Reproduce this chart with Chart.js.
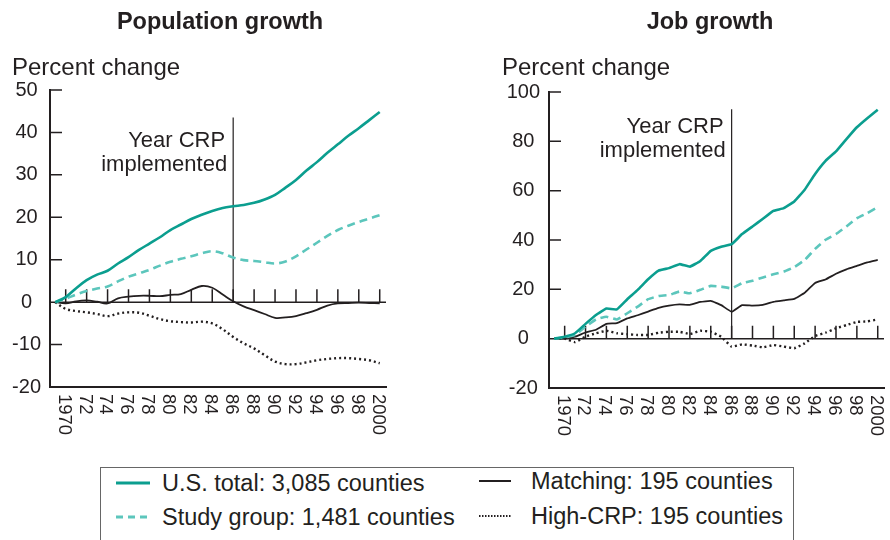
<!DOCTYPE html>
<html>
<head>
<meta charset="utf-8">
<script src="https://cdn.jsdelivr.net/npm/chart.js@4.4.1/dist/chart.umd.min.js"></script>
<style>
body{margin:0;background:#fff;width:890px;height:540px;overflow:hidden;position:relative;font-family:'Liberation Sans',Arial,Helvetica,sans-serif;color:#231f20}
#popChart{position:absolute;left:0;top:0}
#jobChart{position:absolute;left:445px;top:0}
.legend{position:absolute;left:100px;top:467px;width:692px;height:90px;border:1.5px solid #666}
.item{position:absolute;font-size:23.5px;line-height:26px;white-space:nowrap}
.item svg{position:absolute;top:10px}
</style>
</head>
<body>
<canvas id="popChart" width="445" height="460"></canvas>
<canvas id="jobChart" width="445" height="460"></canvas>

<div class="legend">
  <div class="item" style="left:61px;top:2px">
    <svg width="34" height="6" style="left:-46px"><line x1="0" y1="3" x2="34" y2="3" stroke="#0b9e8f" stroke-width="3"/></svg>U.S. total: 3,085 counties</div>
  <div class="item" style="left:61px;top:36px">
    <svg width="34" height="6" style="left:-46px"><line x1="0" y1="3" x2="34" y2="3" stroke="#5cc6bc" stroke-width="3" stroke-dasharray="7 5"/></svg>Study group: 1,481 counties</div>
  <div class="item" style="left:430px;top:0px">
    <svg width="32" height="6" style="left:-52px"><line x1="0" y1="3" x2="32" y2="3" stroke="#231f20" stroke-width="2"/></svg>Matching: 195 counties</div>
  <div class="item" style="left:430px;top:35px">
    <svg width="32" height="6" style="left:-52px"><line x1="0" y1="3" x2="32" y2="3" stroke="#231f20" stroke-width="2" stroke-dasharray="1.5 1.5"/></svg>High-CRP: 195 counties</div>
</div>

<script>
var years = [1969, 1970, 1971, 1972, 1973, 1974, 1975, 1976, 1977, 1978, 1979, 1980, 1981, 1982, 1983, 1984,
             1985, 1986, 1987, 1988, 1989, 1990, 1991, 1992, 1993, 1994, 1995, 1996, 1997, 1998, 1999, 2000];

// population growth, percent change since 1969
var popUS       = [0, 1.2, 3.3, 5.2, 6.5, 7.4, 9.1, 10.6, 12.3, 13.8, 15.3, 17.0, 18.3, 19.6, 20.6, 21.5,
                   22.2, 22.6, 22.9, 23.4, 24.2, 25.3, 27.0, 28.8, 31.0, 33.0, 35.2, 37.2, 39.2, 41.0, 42.9, 44.8];
var popStudy    = [0, 0.8, 1.8, 2.6, 3.2, 3.7, 4.9, 6.0, 6.8, 7.6, 8.6, 9.5, 10.2, 10.8, 11.5, 12.0,
                   11.5, 10.5, 9.9, 9.7, 9.4, 9.1, 9.6, 10.8, 12.4, 14.0, 15.6, 17.0, 18.0, 18.9, 19.7, 20.5];
var popMatching = [0, -0.3, 0.2, 0.4, 0.1, -0.3, 0.9, 1.3, 1.5, 1.5, 1.4, 1.7, 1.9, 2.9, 3.8, 3.4,
                   1.8, 0.2, -1.0, -1.9, -2.8, -3.7, -3.6, -3.3, -2.6, -1.8, -0.8, -0.3, -0.2, -0.1, -0.2, -0.3];
var popHighCRP  = [0, -1.6, -2.1, -2.4, -2.8, -3.3, -2.7, -2.4, -2.5, -3.2, -4.0, -4.5, -4.7, -4.8, -4.6, -5.0,
                   -6.4, -8.2, -9.7, -10.9, -12.5, -14.0, -14.6, -14.6, -14.2, -13.7, -13.4, -13.2, -13.2, -13.4, -13.7, -14.4];

// job growth, percent change since 1969
var jobUS       = [0, 0.8, 2.2, 6.0, 9.6, 12.2, 11.9, 16.0, 19.8, 24.1, 27.6, 28.6, 30.2, 29.2, 31.5, 35.6,
                   37.3, 38.3, 42.4, 45.5, 48.6, 51.8, 52.9, 55.6, 60.4, 66.8, 72.1, 75.9, 80.9, 85.7, 89.4, 92.8];
var jobStudy    = [0, 0.5, 1.5, 4.9, 7.8, 8.9, 7.8, 10.3, 13.0, 16.0, 17.3, 17.7, 19.1, 18.4, 19.8, 21.4,
                   21.1, 20.4, 22.5, 23.5, 24.8, 26.1, 27.2, 29.0, 31.9, 36.4, 40.1, 42.4, 45.5, 48.8, 50.9, 53.3];
var jobMatching = [0, 0, 0.8, 2.5, 3.6, 6.0, 6.3, 8.2, 9.5, 11.0, 12.5, 13.4, 13.9, 13.7, 14.9, 15.3,
                   13.6, 10.9, 13.6, 13.4, 13.7, 14.9, 15.5, 16.1, 18.6, 22.6, 24.0, 26.3, 28.1, 29.5, 30.9, 31.9];
var jobHighCRP  = [0, 0, -1.4, 0.8, 2.2, 3.2, 2.2, 1.8, 1.5, 1.5, 2.4, 2.8, 2.8, 1.9, 3.2, 2.8,
                   0.8, -3.2, -2.3, -2.8, -3.5, -2.6, -3.2, -3.9, -1.9, 1.1, 2.4, 4.2, 5.5, 6.8, 7.0, 7.8];

var tickYears  = [1970, 1972, 1974, 1976, 1978, 1980, 1982, 1984, 1986, 1988, 1990, 1992, 1994, 1996, 1998, 2000];
var tickLabels = ['1970', '72', '74', '76', '78', '80', '82', '84', '86', '88', '90', '92', '94', '96', '98', '2000'];
var crpYear = 1986;

var ink = '#231f20';
var teal = '#0b9e8f';
var lightTeal = '#5cc6bc';
var font = "'Liberation Sans', Arial, Helvetica, sans-serif";

function pts(vals) {
    return years.map(function(yr, i) { return {x: yr, y: vals[i]}; });
}

var decor = {
    id: 'decor',
    beforeDatasetsDraw: function(chart, args, o) {
        var ctx = chart.ctx, area = chart.chartArea;
        var xs = chart.scales.x, ys = chart.scales.y;
        var y0 = ys.getPixelForValue(0);
        ctx.save();
        ctx.strokeStyle = ink;
        ctx.lineWidth = 1.5;
        ctx.beginPath();
        // inward ticks on the y axis
        ys.ticks.forEach(function(t) {
            if (t.value > ys.min && t.value !== 0) {
                var py = ys.getPixelForValue(t.value);
                ctx.moveTo(area.left, py);
                ctx.lineTo(area.left + 12, py);
            }
        });
        // zero line with year ticks
        ctx.moveTo(area.left, y0);
        ctx.lineTo(area.right, y0);
        tickYears.forEach(function(yr) {
            var px = xs.getPixelForValue(yr);
            ctx.moveTo(px, y0);
            ctx.lineTo(px, y0 - 13);
        });
        ctx.stroke();
        // year CRP implemented
        var cx = xs.getPixelForValue(crpYear);
        ctx.lineWidth = 1.2;
        ctx.beginPath();
        ctx.moveTo(cx, ys.getPixelForValue(o.crpTop));
        ctx.lineTo(cx, y0);
        ctx.stroke();
        ctx.restore();
    },
    afterDraw: function(chart, args, o) {
        var ctx = chart.ctx, area = chart.chartArea;
        var xs = chart.scales.x, ys = chart.scales.y;
        ctx.save();
        ctx.fillStyle = ink;
        ctx.textBaseline = 'alphabetic';

        ctx.font = 'bold 23.5px ' + font;
        ctx.textAlign = 'center';
        ctx.fillText(o.title, o.titleX, 29);

        ctx.font = '24px ' + font;
        ctx.textAlign = 'left';
        ctx.fillText('Percent change', o.unitX, 75);

        var cx = xs.getPixelForValue(crpYear);
        ctx.font = '22px ' + font;
        ctx.textAlign = 'right';
        ctx.fillText('Year CRP', cx - 8, o.noteY);
        ctx.fillText('implemented', cx - 6, o.noteY + 24);

        // rotated year labels
        ctx.font = '18.5px ' + font;
        ctx.textAlign = 'left';
        ctx.textBaseline = 'middle';
        tickYears.forEach(function(yr, i) {
            ctx.save();
            ctx.translate(xs.getPixelForValue(yr) - 2, area.bottom + 7);
            ctx.rotate(Math.PI / 2);
            ctx.fillText(tickLabels[i], 0, 0);
            ctx.restore();
        });
        ctx.restore();
    }
};

function makeChart(id, series, yMin, yMax, yStep, pad, tension, decorOpts) {
    var ctx = document.getElementById(id).getContext('2d');
    return new Chart(ctx, {
        type: 'line',
        data: {
            datasets: [
                {label: 'U.S. total: 3,085 counties', data: pts(series[0]), borderColor: teal, borderWidth: 2.6},
                {label: 'Study group: 1,481 counties', data: pts(series[1]), borderColor: lightTeal, borderWidth: 2.6, borderDash: [8, 5]},
                {label: 'Matching: 195 counties', data: pts(series[2]), borderColor: ink, borderWidth: 1.8},
                {label: 'High-CRP: 195 counties', data: pts(series[3]), borderColor: ink, borderWidth: 2.4, borderDash: [2, 3]}
            ]
        },
        options: {
            responsive: false,
            animation: false,
            layout: {padding: pad},
            elements: {
                point: {radius: 0},
                line: {tension: tension, borderCapStyle: 'butt'}
            },
            plugins: {
                legend: {display: false},
                tooltip: {enabled: false},
                decor: decorOpts
            },
            scales: {
                x: {
                    type: 'linear',
                    min: 1968.5,
                    max: 2000.6,
                    ticks: {display: false},
                    grid: {display: false, drawTicks: false},
                    border: {display: true, color: ink, width: 2},
                    afterFit: function(s) { s.height = 60; }
                },
                y: {
                    min: yMin,
                    max: yMax,
                    ticks: {stepSize: yStep, color: ink, padding: 9, crossAlign: 'center',
                            font: {family: font, size: 20}},
                    grid: {display: false, drawTicks: false},
                    border: {display: true, color: ink, width: 2},
                    afterFit: function(s) { s.width = 50; }
                }
            }
        },
        plugins: [decor]
    });
}

makeChart('popChart', [popUS, popStudy, popMatching, popHighCRP], -20, 50, 10,
    {top: 90, left: 0, right: 59, bottom: 13}, 0.35,
    {title: 'Population growth', titleX: 220, unitX: 12, crpTop: 43.5, noteY: 147});

makeChart('jobChart', [jobUS, jobStudy, jobMatching, jobHighCRP], -20, 100, 20,
    {top: 92, left: 54, right: 6, bottom: 12}, 0.1,
    {title: 'Job growth', titleX: 265, unitX: 57, crpTop: 93, noteY: 133});
</script>
</body>
</html>
